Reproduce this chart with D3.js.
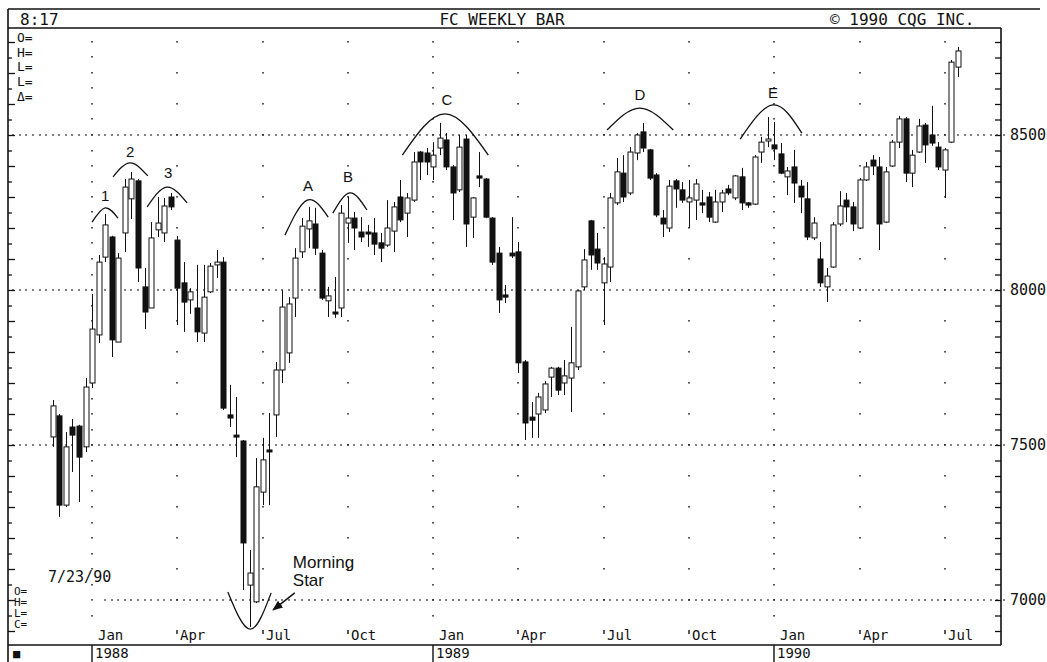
<!DOCTYPE html>
<html>
<head>
<meta charset="utf-8">
<script src="https://cdn.jsdelivr.net/npm/d3@7"></script>
<style>
	body { margin: 0; background: #fff; }
	svg { display: block; }
	.mono { font-family: "DejaVu Sans Mono", "Liberation Mono", monospace; fill: #111; }
	.sans { font-family: "Liberation Sans", Arial, sans-serif; fill: #111; }
</style>
</head>
<body>
<div id="chart"></div>
<script>
var W = 1047, H = 662;
var frame = {left: 8, right: 1001, top: 9, header: 28, bottom: 645, foot: 662};

//  weekly bars, first one is the week of Mon 23 Nov 1987
var firstWeek = new Date(Date.UTC(1987, 10, 23));

var opens = [7526,7594,7306,7558,7561,7494,7700,7855,8106,8171,
	7832,8184,8294,8352,8010,7942,8194,8184,8300,8161,
	8023,7968,7942,7861,7994,8081,8090,7597,7532,7513,
	7048,6994,7348,7484,7597,7742,7797,7974,8123,8197,
	8213,8119,7965,7929,7942,8216,8232,8187,8187,8184,
	8152,8145,8190,8300,8248,8290,8445,8442,8397,8458,
	8484,8397,8323,8487,8235,8368,8358,8232,8119,7984,
	8119,8123,7768,7590,7600,7613,7719,7748,7700,7716,
	7752,8010,8223,8132,8023,8074,8281,8377,8313,8442,
	8510,8452,8371,8232,8200,8352,8323,8284,8290,8281,
	8300,8219,8284,8326,8297,8365,8281,8277,8445,8481,
	8468,8439,8365,8397,8335,8294,8168,8100,8010,8074,
	8213,8290,8268,8200,8355,8419,8397,8219,8400,8477,
	8552,8377,8445,8532,8500,8461,8387,8477,8719];
var highs = [7645,7600,7542,7584,7565,7716,7987,8113,8245,8175,
	8119,8358,8381,8358,8071,8219,8300,8297,8313,8174,
	8090,8006,8081,8081,8087,8129,8106,7694,7655,7516,
	7161,7458,7523,7603,7768,8000,7977,8135,8232,8268,
	8265,8129,8010,8042,8274,8300,8252,8235,8210,8232,
	8184,8290,8284,8355,8313,8445,8448,8458,8477,8539,
	8506,8403,8500,8500,8300,8445,8361,8235,8139,8016,
	8235,8155,7774,7639,7668,7706,7752,7752,7774,7881,
	8000,8132,8226,8184,8106,8313,8426,8435,8461,8506,
	8539,8455,8377,8258,8355,8358,8348,8355,8358,8323,
	8316,8323,8323,8339,8371,8394,8284,8435,8494,8558,
	8542,8474,8397,8452,8355,8348,8235,8155,8071,8219,
	8319,8313,8284,8361,8413,8435,8429,8397,8484,8561,
	8558,8452,8552,8539,8594,8477,8458,8742,8784];
var lows = [7494,7268,7300,7413,7316,7477,7684,7829,8090,7784,
	7832,8123,8229,8026,7874,7942,8171,8155,8258,7887,
	7865,7923,7832,7832,7990,8039,7613,7558,7461,7032,
	6913,6990,7306,7306,7526,7700,7765,7913,8103,8135,
	8113,7968,7913,7910,7913,8152,8129,8155,8139,8113,
	8090,8139,8123,8219,8171,8284,8355,8371,8355,8435,
	8387,8226,8316,8139,8168,8332,8232,8081,7926,7958,
	8103,7732,7516,7523,7523,7603,7655,7661,7661,7606,
	7742,8000,8065,8065,7887,8026,8274,8284,8306,8419,
	8445,8355,8235,8171,8187,8265,8281,8200,8226,8248,
	8219,8216,8252,8306,8290,8258,8265,8274,8410,8461,
	8419,8374,8306,8281,8248,8161,8161,8010,7961,8071,
	8206,8219,8190,8197,8352,8371,8129,8216,8397,8458,
	8348,8332,8442,8410,8465,8387,8297,8474,8687];
var closes = [7626,7306,7494,7532,7461,7687,7874,8090,8210,7839,
	8103,8332,8358,8071,7929,8168,8216,8271,8268,8006,
	7961,7994,7865,7977,8077,8090,7619,7587,7526,7184,
	7087,7365,7452,7478,7742,7945,7955,8103,8206,8223,
	8135,7974,7981,7923,8248,8232,8200,8171,8181,8148,
	8135,8200,8268,8226,8297,8413,8413,8413,8435,8490,
	8397,8313,8461,8213,8297,8361,8235,8090,7968,7977,
	8110,7765,7571,7580,7655,7697,7748,7677,7723,7765,
	7997,8097,8113,8087,8084,8297,8381,8300,8445,8500,
	8458,8361,8242,8213,8335,8326,8290,8297,8342,8274,
	8235,8284,8313,8313,8368,8281,8274,8429,8477,8487,
	8455,8377,8384,8345,8300,8171,8216,8023,8045,8210,
	8271,8268,8213,8355,8397,8400,8213,8381,8477,8552,
	8377,8435,8529,8468,8474,8397,8452,8735,8771];

//  quarter ticks (year, month) and their labels
var quarterMonths = [[1988,0],[1988,3],[1988,6],[1988,9],[1989,0],[1989,3],
	[1989,6],[1989,9],[1990,0],[1990,3],[1990,6]];
var quarterNames = ["Jan","Apr","Jul","Oct","Jan","Apr","Jul","Oct","Jan","Apr","Jul"];
var yearNames = ["1988","1989","1990"];
var priceLabels = [7000, 7500, 8000, 8500];
var topLegend = ["O=","H=","L=","L=","\u0394="];
var footLegend = ["O=","H=","L=","C="];

//  hand drawn humps: [week, price] for left end, top, right end, label
var humpNames = ["1","2","3","A","B","C","D","E"];
var humpLeft = [[6.0,8219],[9.2,8365],[14.4,8268],[35.4,8177],[42.7,8248],[53.3,8435],[84.5,8516],[104.8,8487]];
var humpTop = [[8.0,8265],[11.8,8410],[17.4,8332],[38.8,8290],[45.3,8313],[59.8,8568],[89.5,8587],[109.8,8597]];
var humpRight = [[9.95,8232],[14.5,8368],[20.5,8281],[42.0,8235],[47.9,8258],[66.4,8435],[94.6,8516],[114.2,8506]];
var humpText = [[8.0,8303],[11.8,8445],[17.6,8377],[38.9,8335],[45.0,8365],[60.1,8613],[89.5,8629],[109.8,8635]];
//  morning star cup, arrow and note
var starCup = [[26.7,7026],[30.1,6906],[33.3,7023]];
var starArrow = [[36.9,7023],[33.6,6968]];
var starNote = [["Morning",36.6,7103],["Star",36.6,7045]];

var weeks = opens.map(function(d, i) { return d3.utcWeek.offset(firstWeek, i); });

var x = d3.scaleUtc()
	.domain([weeks[0], weeks[weeks.length - 1]])
	.range([52.7, 958]);
var y = d3.scaleLinear()
	.domain([7000, 8500])
	.range([600, 135]);

function xAt(w) {
	return x(new Date(+firstWeek + w * 7 * 864e5));
}

var svg = d3.select("#chart").append("svg")
	.attr("width", W)
	.attr("height", H);

//  grid dots
var dots = svg.append("g").attr("fill", "#222");
var quarterDates = quarterMonths.map(function(q) {
	return d3.utcMonday.ceil(new Date(Date.UTC(q[0], q[1], 1)));
});
quarterDates.forEach(function(d, i) {
	var isJan = quarterNames[i] === "Jan";
	d3.range(isJan ? 6950 : 6900, 8801, isJan ? 50 : 100).forEach(function(p) {
		dots.append("rect")
			.attr("x", Math.round(x(d)) - 0.75)
			.attr("y", Math.round(y(p)) - 1)
			.attr("width", 1.5)
			.attr("height", p === 6900 ? 4 : 1.6);
	});
});
priceLabels.forEach(function(p) {
	var from = p === 7000 ? 8 : -6;
	d3.range(from, 146).forEach(function(w) {
		dots.append("rect")
			.attr("x", Math.round(xAt(w)) - 0.75)
			.attr("y", Math.round(y(p)) - 0.75)
			.attr("width", 1.5)
			.attr("height", 1.5);
	});
});

//  candles
var bw = 5;
var bars = svg.append("g").selectAll("g")
	.data(weeks)
	.enter().append("g")
	.attr("transform", function(d) { return "translate(" + (Math.round(x(d)) + 0.5) + ",0)"; });
bars.append("line")
	.attr("y1", function(d, i) { return y(highs[i]); })
	.attr("y2", function(d, i) { return y(lows[i]); })
	.attr("stroke", "#111")
	.attr("stroke-width", 1);
bars.append("rect")
	.attr("x", -bw / 2)
	.attr("y", function(d, i) { return y(Math.max(opens[i], closes[i])); })
	.attr("width", bw)
	.attr("height", function(d, i) {
		return Math.max(2, Math.abs(y(opens[i]) - y(closes[i])));
	})
	.attr("fill", function(d, i) { return closes[i] < opens[i] ? "#111" : "#fff"; })
	.attr("stroke", "#111")
	.attr("stroke-width", 1);

//  humps over the tops
var curve = d3.line()
	.x(function(d) { return xAt(d[0]); })
	.y(function(d) { return y(d[1]); })
	.curve(d3.curveNatural);
var notes = svg.append("g");
humpNames.forEach(function(name, i) {
	notes.append("path")
		.attr("d", curve([humpLeft[i], humpTop[i], humpRight[i]]))
		.attr("fill", "none")
		.attr("stroke", "#111")
		.attr("stroke-width", 1.3);
	notes.append("text")
		.attr("class", "sans")
		.attr("x", xAt(humpText[i][0]))
		.attr("y", y(humpText[i][1]))
		.attr("dy", "0.35em")
		.attr("text-anchor", "middle")
		.style("font-size", "15px")
		.text(name);
});
notes.append("path")
	.attr("d", curve(starCup))
	.attr("fill", "none")
	.attr("stroke", "#111")
	.attr("stroke-width", 1.3);
svg.append("defs").append("marker")
	.attr("id", "head")
	.attr("viewBox", "0 0 10 10")
	.attr("refX", 9)
	.attr("refY", 5)
	.attr("markerWidth", 7)
	.attr("markerHeight", 7)
	.attr("orient", "auto")
	.append("path")
	.attr("d", "M0,1L10,5L0,9Z")
	.attr("fill", "#111");
notes.append("line")
	.attr("x1", xAt(starArrow[0][0]))
	.attr("y1", y(starArrow[0][1]))
	.attr("x2", xAt(starArrow[1][0]))
	.attr("y2", y(starArrow[1][1]))
	.attr("stroke", "#111")
	.attr("stroke-width", 1.5)
	.attr("marker-end", "url(#head)");
starNote.forEach(function(n) {
	notes.append("text")
		.attr("class", "sans")
		.attr("x", xAt(n[1]))
		.attr("y", y(n[2]))
		.style("font-size", "17px")
		.text(n[0]);
});

//  frame
var lines = [
	[frame.left, frame.top, 1040, frame.top],
	[frame.left, frame.header, frame.right, frame.header],
	[frame.left, frame.bottom, frame.right, frame.bottom],
	[frame.left, frame.top, frame.left, frame.foot],
	[frame.right, frame.header, frame.right, frame.bottom]
];
svg.append("g").selectAll("line")
	.data(lines)
	.enter().append("line")
	.attr("x1", function(d) { return d[0]; })
	.attr("y1", function(d) { return d[1]; })
	.attr("x2", function(d) { return d[2]; })
	.attr("y2", function(d) { return d[3]; })
	.attr("stroke", "#111")
	.attr("stroke-width", 1.6);

//  price axes, ticks point into the plot
var allTicks = d3.range(6850, 8851, 50).filter(function(p) {
	return y(p) > frame.header + 4 && y(p) < frame.bottom - 1;
});
var right = svg.append("g")
	.attr("transform", "translate(" + frame.right + ",0)")
	.call(d3.axisRight(y)
		.tickValues(allTicks)
		.tickSize(-6)
		.tickPadding(9)
		.tickFormat(function(p) { return priceLabels.indexOf(p) >= 0 ? p : ""; }));
right.select(".domain").remove();
right.selectAll("line").attr("stroke", "#111").attr("stroke-width", 1.3);
right.selectAll("text")
	.attr("class", "mono")
	.style("font-size", "15px");
var left = svg.append("g")
	.attr("transform", "translate(" + frame.left + ",0)")
	.call(d3.axisLeft(y)
		.tickValues(allTicks)
		.tickSize(-5)
		.tickFormat(""));
left.select(".domain").remove();
left.selectAll("line")
	.attr("x2", function(p) { return p % 100 === 0 ? 7 : 4; })
	.attr("stroke", "#111")
	.attr("stroke-width", 1.3);

//  time labels
svg.append("g").selectAll("text")
	.data(quarterDates)
	.enter().append("text")
	.attr("class", "mono")
	.attr("x", function(d, i) { return Math.round(x(d)) + (quarterNames[i] === "Jan" ? 6 : 3); })
	.attr("y", 640)
	.style("font-size", "14px")
	.text(function(d, i) { return quarterNames[i]; });
var yearStarts = quarterDates.filter(function(d, i) { return quarterNames[i] === "Jan"; });
var years = svg.append("g");
yearStarts.forEach(function(d, i) {
	var xx = Math.round(x(d));
	years.append("line")
		.attr("x1", xx).attr("x2", xx)
		.attr("y1", frame.bottom).attr("y2", frame.foot)
		.attr("stroke", "#111")
		.attr("stroke-width", 1.4);
	years.append("text")
		.attr("class", "mono")
		.attr("x", xx + 3)
		.attr("y", 658)
		.style("font-size", "14px")
		.text(yearNames[i]);
});
svg.append("text")
	.attr("class", "mono")
	.attr("x", 13)
	.attr("y", 658)
	.style("font-size", "12px")
	.text("\u25A0");

//  header
var head = svg.append("g").attr("class", "mono").style("font-size", "16px");
head.append("text").attr("x", 20).attr("y", 25).text("8:17");
head.append("text").attr("x", 502).attr("y", 25).attr("text-anchor", "middle").text("FC WEEKLY BAR");
head.append("text").attr("x", 830).attr("y", 25).text("\u00A9 1990 CQG INC.");

//  quote boxes
svg.append("g").selectAll("text")
	.data(topLegend)
	.enter().append("text")
	.attr("class", "mono")
	.attr("x", 17)
	.attr("y", function(d, i) { return 42 + i * 14.7; })
	.style("font-size", "13px")
	.text(function(d) { return d; });
svg.append("g").selectAll("text")
	.data(footLegend)
	.enter().append("text")
	.attr("class", "mono")
	.attr("x", 14)
	.attr("y", function(d, i) { return 595 + i * 11; })
	.style("font-size", "11px")
	.text(function(d) { return d; });
svg.append("text")
	.attr("class", "mono")
	.attr("x", 48)
	.attr("y", 582)
	.style("font-size", "15px")
	.text("7/23/90");
</script>
</body>
</html>
